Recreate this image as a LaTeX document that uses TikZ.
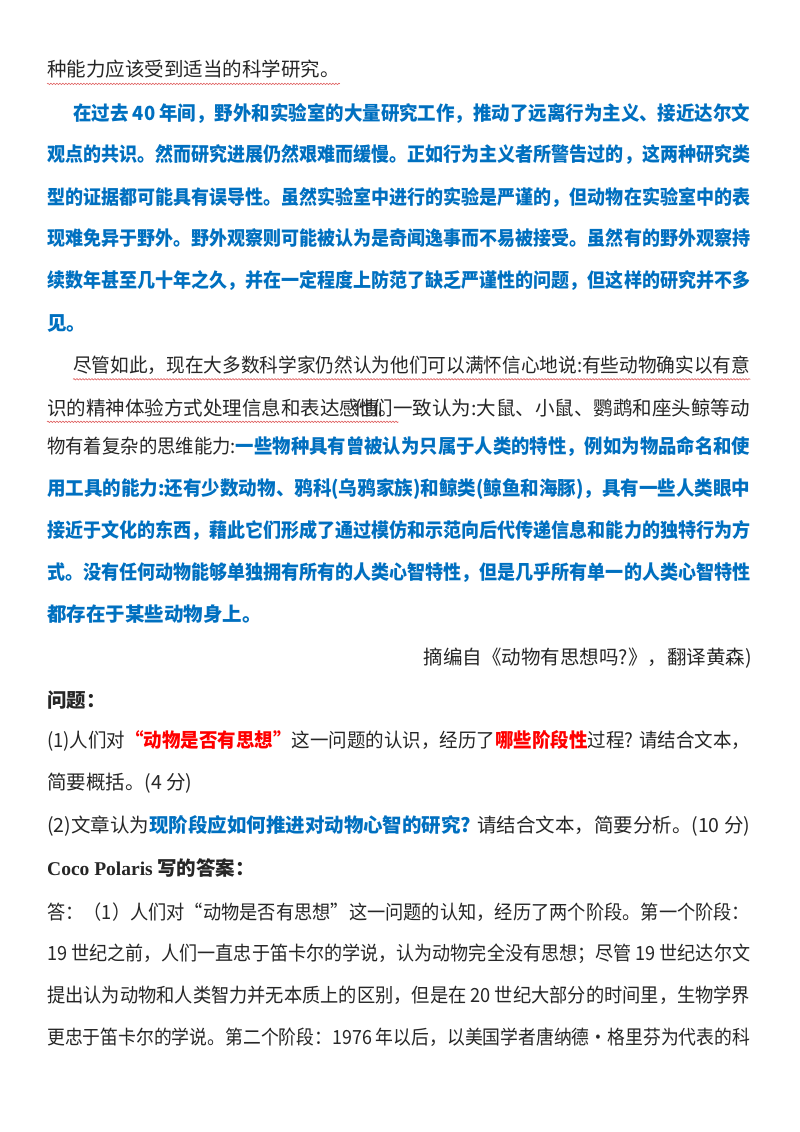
\documentclass[tikz,border=0pt]{standalone}
\usepackage{graphicx}
\usepackage{fontspec}
\setmainfont{Noto Sans CJK SC}
\newfontfamily\cocofont{Liberation Serif}
\usetikzlibrary{decorations.pathmorphing}
\definecolor{hblue}{HTML}{0070C0}
\definecolor{hred}{HTML}{FF0000}
\definecolor{wavy}{HTML}{E06060}
\XeTeXlinebreaklocale "zh"
\XeTeXlinebreakskip=0pt plus 4pt minus 1pt
\newcommand{\B}[1]{{\bfseries\color{hblue}#1}}
\newcommand{\R}[1]{{\bfseries\color{hred}#1}}
\newcommand{\fit}[2]{\sbox0{#2}\ifdim\wd0>#1\resizebox{#1}{\height}{\usebox0}\else\hbox to #1{#2}\fi}
\begin{document}
\begin{tikzpicture}[x=1pt,y=1pt,
  txt/.style={anchor=base west,inner sep=0pt,font=\fontsize{19.5}{22}\selectfont,text=black!85},
  wv/.style={wavy,line width=0.6pt,decorate,decoration={snake,amplitude=0.7pt,segment length=3pt}}]
\useasboundingbox[fill=white] (0,0) rectangle (800,-1132);
\def\W{703pt}\def\Wi{677pt}
\node[txt] (l1) at (47,-77) {种能力应该受到适当的科学研究。};
\node[txt] (a1) at (73,-120) {\fit{\Wi}{\B{在过去 40 年间，野外和实验室的大量研究工作，推动了远离行为主义、接近达尔文}}};
\node[txt] (a2) at (47,-161) {\fit{\W}{\B{观点的共识。然而研究进展仍然艰难而缓慢。正如行为主义者所警告过的，这两种研究类}}};
\node[txt] (a3) at (47,-204) {\fit{\W}{\B{型的证据都可能具有误导性。虽然实验室中进行的实验是严谨的，但动物在实验室中的表}}};
\node[txt] (a4) at (47,-245) {\fit{\W}{\B{现难免异于野外。野外观察则可能被认为是奇闻逸事而不易被接受。虽然有的野外观察持}}};
\node[txt] (a5) at (47,-287) {\fit{\W}{\B{续数年甚至几十年之久，并在一定程度上防范了缺乏严谨性的问题，但这样的研究并不多}}};
\node[txt] (a6) at (47,-330) {\B{见。}};
\node[txt] (b1) at (73,-372) {\fit{\Wi}{尽管如此，现在大多数科学家仍然认为他们可以满怀信心地说:有些动物确实以有意}};
\node[txt] (b2a) at (47,-415) {识的精神体验方式处理信息和表达感情。};
\node[txt,anchor=base east] (b2b) at (750,-415) {他们一致认为:大鼠、小鼠、鹦鹉和座头鲸等动};
\node[txt] (b3) at (47,-453) {\fit{\W}{物有着复杂的思维能力:\B{一些物种具有曾被认为只属于人类的特性，例如为物品命名和使}}};
\node[txt] (b4) at (47,-495) {\fit{\W}{\B{用工具的能力:还有少数动物、鸦科(乌鸦家族)和鲸类(鲸鱼和海豚)，具有一些人类眼中}}};
\node[txt] (b5) at (47,-537) {\fit{\W}{\B{接近于文化的东西，藉此它们形成了通过模仿和示范向后代传递信息和能力的独特行为方}}};
\node[txt] (b6) at (47,-579) {\fit{\W}{\B{式。没有任何动物能够单独拥有所有的人类心智特性，但是几乎所有单一的人类心智特性}}};
\node[txt] (b7) at (47,-621) {\B{都存在于某些动物身上。}};
\node[txt,anchor=base east] (src) at (752,-664) {摘编自《动物有思想吗?》，翻译黄森)};
\node[txt] (q0) at (47,-707) {\bfseries 问题：};
\node[txt] (q1) at (47,-747) {\fit{\W}{(1)人们对\R{“动物是否有思想”}这一问题的认识，经历了\R{哪些阶段性}过程? 请结合文本，}};
\node[txt] (q2) at (47,-789) {简要概括。(4 分)};
\node[txt] (q3) at (47,-832) {\fit{\W}{(2)文章认为\B{现阶段应如何推进对动物心智的研究?} 请结合文本，简要分析。(10 分)}};
\node[txt] (c0) at (47,-875) {\bfseries{\cocofont Coco Polaris} 写的答案：};
\node[txt] (c1) at (47,-919) {\fit{\W}{答：（1）人们对“动物是否有思想”这一问题的认知，经历了两个阶段。第一个阶段：}};
\node[txt] (c2) at (47,-960) {\fit{\W}{19 世纪之前，人们一直忠于笛卡尔的学说，认为动物完全没有思想；尽管 19 世纪达尔文}};
\node[txt] (c3) at (47,-1002) {\fit{\W}{提出认为动物和人类智力并无本质上的区别，但是在 20 世纪大部分的时间里，生物学界}};
\node[txt] (c4) at (47,-1044) {\fit{\W}{更忠于笛卡尔的学说。第二个阶段：1976 年以后，以美国学者唐纳德·格里芬为代表的科}};
\draw[wv] ([yshift=-5pt]l1.south west) -- ([yshift=-5pt]l1.south east);
\draw[wv] ([yshift=-5pt]b1.south west) -- ([yshift=-5pt]b1.south east);
\draw[wv] ([yshift=-5pt]b2a.south west) -- ([yshift=-5pt]b2a.south east);
\end{tikzpicture}
\end{document}
